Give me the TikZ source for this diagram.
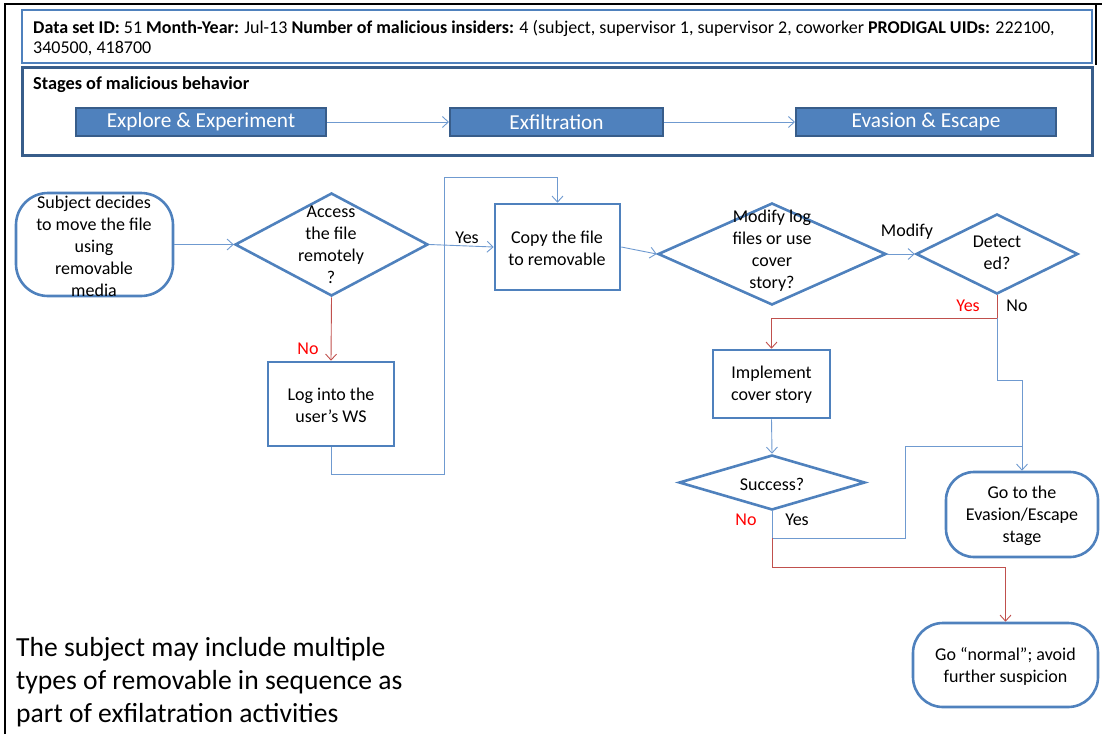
\documentclass[tikz,border=0pt]{standalone}
\usepackage{fontspec}
\setmainfont{Carlito}
\usetikzlibrary{arrows.meta,shapes.geometric}
\definecolor{shapeblue}{HTML}{4F81BD}
\definecolor{darkblue}{HTML}{385D8A}
\definecolor{linkblue}{HTML}{6F9AD0}
\definecolor{linkred}{HTML}{C0504D}
\definecolor{labred}{HTML}{FF0000}

\begin{document}
\begin{tikzpicture}[x=1pt,y=-1pt,
  shapeline/.style={draw=shapeblue,line width=2.6pt},
  procbox/.style={shapeline,rectangle,inner sep=0pt},
  termbox/.style={shapeline,rectangle,rounded corners=32pt,inner sep=0pt},
  decision/.style={shapeline,diamond,inner sep=0pt},
  inside/.style={align=center,font=\fontsize{18}{22}\selectfont,inner sep=0pt},
  lab/.style={font=\fontsize{18}{20}\selectfont,inner sep=0pt},
  nolab/.style={lab,text=labred},
  stagebox/.style={rectangle,fill=shapeblue,draw=darkblue,line width=2pt,
    minimum height=28pt,inner sep=0pt,text=white,font=\fontsize{21.3}{22}\selectfont},
  tip/.style={-{Straight Barb[length=6pt,width=11pt]}},
  link/.style={draw=linkblue,line width=0.9pt},
  redlink/.style={draw=linkred,line width=0.9pt},
  hdr/.style={font=\fontsize{18}{20}\selectfont,inner sep=0pt,align=left}
]
\useasboundingbox (0,0) rectangle (1102,734);

% outer frame
\draw[black,line width=2pt] (5,734) -- (5,4) -- (1102,4);
\draw[black,line width=2pt] (1096,4) -- (1096,65);

% header panels
\draw[draw=shapeblue,line width=2pt] (22,10) rectangle (1092,63);
\draw[draw=darkblue,line width=3pt] (22,67) rectangle (1092,155);

\node[hdr,anchor=north west] (info) at (33,20)
  {\textbf{Data set ID:} 51 \textbf{Month-Year:} Jul-13 \textbf{Number of malicious insiders:} 4 (subject, supervisor 1, supervisor 2, coworker \textbf{PRODIGAL UIDs:} 222100,\\340500, 418700};
\node[hdr,anchor=west,font=\fontsize{18.3}{20}\selectfont\bfseries] (stagetitle) at (33,85) {Stages of malicious behavior};

% stages
\node[stagebox,minimum width=250pt] (st1) at (201,122) {Explore \& Experiment};
\node[stagebox,minimum width=213pt] (st2) at (556.5,122) {Exfiltration};
\node[stagebox,minimum width=260pt] (st3) at (926,122) {Evasion \& Escape};
\draw[link,tip] (st1.east) -- (st2.west);
\draw[link,tip] (st2.east) -- (st3.west);

% flowchart shapes
\node[termbox,minimum width=157pt,minimum height=103pt] (subj) at (94.5,244.5) {};
\node[inside] (subjtxt) at (94,246) {Subject decides\\to move\ the file\\using\\removable\\media};

\node[decision,minimum width=193pt,minimum height=103pt] (acc) at (331.5,244.5) {};
\node[inside] (acctxt) at (331,245) {Access\\the file\\remotely\\?};

\node[procbox,minimum width=126pt,minimum height=84pt] (log) at (331,404) {};
\node[inside] (logtxt) at (331,405) {Log into the\\user’s WS};

\node[procbox,minimum width=125pt,minimum height=86pt] (copy) at (557.5,247) {};
\node[inside] (copytxt) at (557,248) {Copy the file\\to removable};

\node[decision,minimum width=228pt,minimum height=102pt] (mod) at (772,254) {};
\node[inside] (modtxt) at (772,250.5) {Modify log\\files or use\\cover\\story?};

\node[decision,minimum width=162pt,minimum height=80pt] (det) at (997,254) {};
\node[inside] (dettxt) at (997,253) {Detect\\ed?};

\node[procbox,minimum width=117pt,minimum height=68pt] (impl) at (771.5,384) {};
\node[inside] (impltxt) at (771.5,385) {Implement\\cover story};

\node[decision,minimum width=186pt,minimum height=55pt] (suc) at (772,482.5) {};
\node[inside] (suctxt) at (772,484) {Success?};

\node[termbox,rounded corners=28pt,minimum width=152pt,minimum height=85pt] (eva) at (1022,514.5) {};
\node[inside] (evatxt) at (1022,515.5) {Go to the\\Evasion/Escape\\stage};

\node[termbox,rounded corners=30pt,minimum width=185pt,minimum height=84pt] (norm) at (1005.5,665) {};
\node[inside] (normtxt) at (1005.5,666.5) {Go “normal”; avoid\\further suspicion};

% note
\node[anchor=west,align=left,inner sep=0pt,font=\fontsize{27.6}{33}\selectfont] (note) at (16,682)
  {The subject may include multiple\\types of removable in sequence as\\part of exfilatration activities};

% junction points
\coordinate (la) at (444,474);
\coordinate (lb) at (444,177);
\coordinate (dj) at (997,318);
\coordinate (dk) at (997,380);
\coordinate (sj) at (772,538);
\coordinate (sm) at (905,446);
\coordinate (sn) at (772,567);
\coordinate (em) at (eva.north |- sm);

% connectors
\draw[link,tip] (subj.east) -- (acc.west);
\draw[redlink,tip] (acc.south) -- (log.north);
\draw[link,tip] (log.south) |- (la) -- (lb) -| (copy.north);
\draw[link,tip] (acc.east) -- (copy.west);
\draw[link,tip] (copy.east) -- (mod.west);
\draw[link,tip] (mod.east) -- (det.west);
\draw[redlink] (det.south) -- (dj);
\draw[redlink,tip] (dj) -| (impl.north);
\draw[link,tip] (dj) -- (dk) -| (eva.north);
\draw[link,tip] (impl.south) -- (suc.north);
\draw[link] (suc.south) -- (sj) -| (sm) -- (em);
\draw[redlink] (sj) -- (sn);
\draw[redlink,tip] (sn) -| (norm.north);

% branch labels
\node[nolab] (noacc) at (308,349) {No};
\node[lab] (yesacc) at (467,238) {Yes};
\node[lab] (modlab) at (907,232) {Modify};
\node[nolab] (yesdet) at (968,306) {Yes};
\node[lab] (nodet) at (1017,306) {No};
\node[nolab] (nosuc) at (746,520) {No};
\node[lab] (yessuc) at (797,520) {Yes};
\end{tikzpicture}
\end{document}
